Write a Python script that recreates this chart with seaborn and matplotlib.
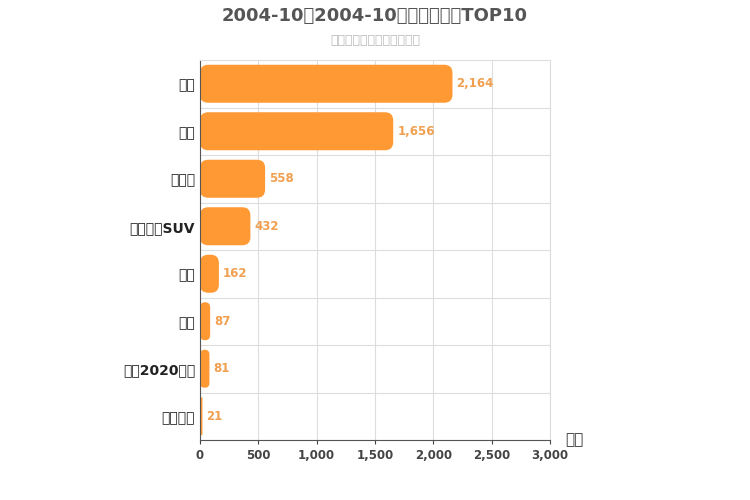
import matplotlib
matplotlib.use("Agg")
import matplotlib.pyplot as plt
import seaborn as sns
import pandas as pd
from matplotlib.patches import FancyBboxPatch

plt.rcParams['font.family'] = 'sans-serif'
plt.rcParams['font.sans-serif'] = ['DejaVu Sans', 'Noto Sans CJK SC', 'Noto Sans CJK JP',
                                   'Noto Sans CJK TC', 'Noto Sans CJK KR', 'Noto Sans CJK']

models = ['猎豹', '赛弗', '特拉卡', '中兴驰野SUV', '传奇', '宝威', '北汽2020系列', '猎豹飞腾']
sales = [2164, 1656, 558, 432, 162, 87, 81, 21]
xticks = [0, 500, 1000, 1500, 2000, 2500, 3000]

df = pd.DataFrame({'model': models, 'sales': sales})

fig = plt.figure(figsize=(7.5, 5), dpi=100)
ax = fig.add_axes([200 / 750, 60 / 500, 350 / 750, 380 / 500])
sns.barplot(data=df, y='model', x='sales', orient='h', color='#FF9933', width=0.8, ax=ax, zorder=2)

# swap plain bars for rounded ones
aspect = (8 / 380) / (3000 / 350)
for p in list(ax.patches):
    x, y, w, h = p.get_x(), p.get_y(), p.get_width(), p.get_height()
    r = min(70, w / 2)
    ax.add_patch(FancyBboxPatch((x, y), w, h, boxstyle=f"round,pad=0,rounding_size={r}",
                                mutation_aspect=aspect, fc='#FF9933', ec='none', zorder=2))
    p.remove()
    ax.text(w + 35, y + h / 2, f"{int(w):,}", va='center', ha='left',
            color='#F0A050', fontsize=8.5, fontweight='bold')

ax.set_xlim(0, 3000)
ax.set_ylim(7.5, -0.5)
ax.set_xticks(xticks)
ax.set_xticklabels([f"{v:,}" for v in xticks], fontsize=8.5, color='#444444', fontweight='bold')
ax.set_yticks(range(len(models)))
ax.set_yticklabels(models, fontsize=10, color='#222222', fontweight='bold')
ax.tick_params(axis='y', length=0)
ax.tick_params(axis='x', length=3, colors='#444444')
ax.set_yticks([i + 0.5 for i in range(len(models))], minor=True)
ax.grid(axis='x', color='#DDDDDD', lw=0.8, zorder=0)
ax.grid(axis='y', which='minor', color='#DDDDDD', lw=0.8, zorder=0)
ax.tick_params(axis='y', which='minor', length=0)
ax.set_ylabel('')
ax.set_xlabel('')
for s in ['top', 'right']:
    ax.spines[s].set_color('#DDDDDD')
for s in ['left', 'bottom']:
    ax.spines[s].set_color('#555555')

fig.text(565 / 750, 1 - 440 / 500, '销量', fontsize=11, fontweight='bold', color='#333333', ha='left', va='center')
fig.text(375 / 750, 1 - 16 / 500, '2004-10至2004-10自主车型销量TOP10', fontsize=13,
         fontweight='bold', color='#555555', ha='center', va='center')
fig.text(375 / 750, 1 - 41 / 500, '数据整理：盖世汽车研究院', fontsize=9,
         fontweight='bold', color='#BBBBBB', ha='center', va='center')

fig.savefig('out.png', dpi=100)
